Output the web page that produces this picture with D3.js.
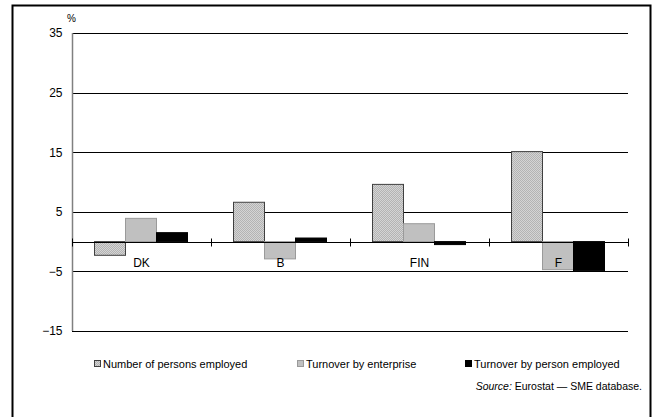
<!DOCTYPE html>
<html><head><meta charset="utf-8">
<script src="https://cdn.jsdelivr.net/npm/d3@7"></script>
<style>body{margin:0;background:#fff}svg{display:block;font-family:"Liberation Sans",Arial,sans-serif}</style>
</head><body>
<script>
const categories = ["DK", "B", "FIN", "F"];
const seriesNames = ["Number of persons employed", "Turnover by enterprise", "Turnover by person employed"];
const employed = [-2.3, 6.6, 9.6, 15.1];
const turnoverEnterprise = [3.9, -2.9, 3.0, -4.7];
const turnoverPerson = [1.5, 0.6, -0.5, -4.9];
const yTicks = [35, 25, 15, 5, -5, -15];

const W = 659, H = 417;
const svg = d3.select("body").append("svg").attr("width", W).attr("height", H);
const defs = svg.append("defs");
const pat = defs.append("pattern").attr("id","hatch").attr("patternUnits","userSpaceOnUse")
  .attr("width",2).attr("height",2);
pat.append("rect").attr("width",2).attr("height",2).attr("fill","#d4d4d4");
pat.append("path").attr("d","M-0.5,0.5 l1,-1 M0,2 l2,-2 M1.5,2.5 l1,-1").attr("stroke","#9c9c9c").attr("stroke-width",0.6);

// outer frame
svg.append("rect").attr("x",12.5).attr("y",5.5).attr("width",638).attr("height",420)
  .attr("fill","none").attr("stroke","#000").attr("stroke-width",2);

const x0 = 72, x1 = 628;
const y = d3.scaleLinear().domain([-15, 35]).range([331, 33]);
const x = d3.scaleBand().domain(categories).range([x0, x1]).paddingInner(0).paddingOuter(0);
const xs = d3.scaleBand().domain(seriesNames).range([22, 115]);

// gridlines
svg.append("g").selectAll("line").data(yTicks).join("line")
  .attr("x1", x0).attr("x2", x1).attr("y1", d=>Math.round(y(d))+0.5).attr("y2", d=>Math.round(y(d))+0.5)
  .attr("stroke","#000").attr("stroke-width",1);

// y axis
const yAxis = d3.axisLeft(y).tickValues(yTicks).tickSize(0).tickPadding(10);
const ga = svg.append("g").attr("transform",`translate(${x0+0.5},0)`).call(yAxis);
ga.select(".domain").attr("stroke","#808080").attr("stroke-width",1.5).attr("d",`M0,${y(35)}V${y(-15)}`);
ga.selectAll("text").attr("font-size",12).attr("fill","#000").attr("font-family","Liberation Sans, Arial, sans-serif");
svg.append("text").attr("x",67).attr("y",22).attr("font-size",10).text("%");

// bars
const data = categories.map((c,i)=>({c, vals:[employed[i], turnoverEnterprise[i], turnoverPerson[i]]}));
const fills = ["url(#hatch)", "#c0c0c0", "#000"];
const strokes = ["#404040", "#9a9a9a", "#000"];
const g = svg.append("g").selectAll("g").data(data).join("g").attr("transform", d=>`translate(${x(d.c)},0)`);
g.selectAll("rect").data(d=>d.vals.map((v,j)=>({v,j}))).join("rect")
  .attr("x", d=>xs(seriesNames[d.j])+0.5)
  .attr("width", xs.bandwidth())
  .attr("y", d=>Math.min(y(d.v), y(0)))
  .attr("height", d=>Math.abs(y(d.v)-y(0)))
  .attr("fill", d=>fills[d.j]).attr("stroke", d=>strokes[d.j]).attr("stroke-width",1);

// zero axis with ticks
const y0 = Math.round(y(0))+0.5;
svg.append("line").attr("x1",x0).attr("x2",x1).attr("y1",y0).attr("y2",y0).attr("stroke","#000");
const xAxis = d3.axisBottom(x).tickSize(0);
svg.append("g").selectAll("line").data(d3.range(categories.length+1)).join("line")
  .attr("x1", i=>Math.round(x0 + i*x.bandwidth())+0.5).attr("x2", i=>Math.round(x0 + i*x.bandwidth())+0.5)
  .attr("y1", y0-4).attr("y2", y0+4).attr("stroke","#000");
const gx = svg.append("g").attr("transform",`translate(0,${y0})`).call(xAxis);
gx.select(".domain").remove();
gx.selectAll("text").attr("dy",0).attr("y",24).attr("font-size",12).attr("fill","#000")
  .attr("font-family","Liberation Sans, Arial, sans-serif");

// legend
const legX = [94, 297, 465];
const lg = svg.append("g").selectAll("g").data(seriesNames).join("g")
  .attr("transform",(d,i)=>`translate(${legX[i]},360)`);
lg.append("rect").attr("x",0.5).attr("y",0.5).attr("width",6).attr("height",6)
  .attr("fill",(d,i)=>fills[i]).attr("stroke",(d,i)=>strokes[i]);
lg.append("text").attr("x",9).attr("y",8).attr("font-size",11).text(d=>d);

// source
const src = svg.append("text").attr("x",642).attr("y",390).attr("text-anchor","end").attr("font-size",10.5);
src.append("tspan").attr("font-style","italic").text("Source:");
src.append("tspan").text(" Eurostat — SME database.");
</script>
</body></html>
